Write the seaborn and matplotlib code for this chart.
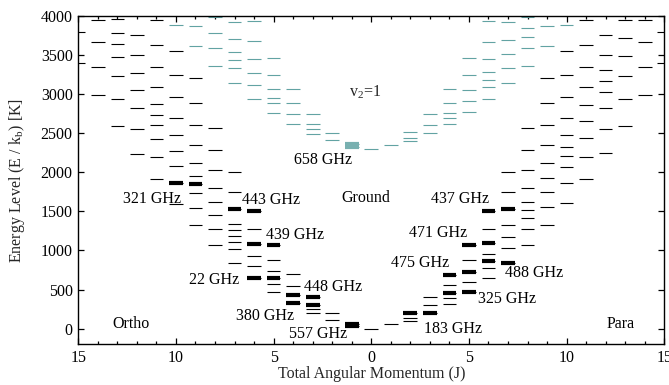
import matplotlib
matplotlib.use("Agg")
import matplotlib.pyplot as plt
from matplotlib.ticker import MultipleLocator
import pandas as pd
import seaborn as sns

# Rotational energy levels of H2O (E/k in K), keyed by total angular momentum J.
ortho_ground = {
    1: [34.2, 61.0],
    2: [114.4, 194.1],
    3: [196.8, 249.4, 305.3, 410.7],
    4: [323.5, 432.2, 550.4, 702.3],
    5: [468.1, 574.7, 642.7, 732.1, 878.1, 1067.7],
    6: [643.5, 795.5, 933.7, 1088.8, 1278.5, 1503.8],
    7: [843.5, 1013.2, 1113, 1189, 1262, 1339.9, 1524.8, 1749.9, 2005],
    8: [1070, 1279, 1450, 1620, 1803, 2033, 2285, 2570],
    9: [1322, 1547, 1731, 1845, 1953, 2123, 2345, 2605, 2890, 3206],
    10: [1595, 1861, 2081, 2276, 2473, 2694, 2959, 3244, 3555],
    11: [1910, 2192, 2430, 2609, 2733, 2877, 3087, 3343, 3628, 3944],
    12: [2238, 2550, 2822, 3052, 3270, 3496, 3756],
    13: [2596, 2937, 3231, 3474, 3641, 3781, 3960],
    14: [2985, 3350, 3670, 3951],
    15: [3400, 3790],
}
para_ground = {
    0: [0.0],
    1: [53.4],
    2: [100.8, 136.9, 195.9],
    3: [204.7, 296.8, 410.4],
    4: [319.5, 396.4, 454.3, 552.3, 688.2],
    5: [469.9, 598.8, 725.1, 877.8, 1067.7],
    6: [642.7, 781.2, 867.3, 951.8, 1090.3, 1278.7, 1503.7],
    7: [843.8, 1028, 1173, 1326, 1524.7, 1752, 2008],
    8: [1066, 1271, 1412, 1514, 1624, 1803, 2033, 2285, 2570],
    9: [1322, 1556, 1752, 1931, 2123, 2345, 2605, 2890, 3206],
    10: [1604, 1867, 2068, 2212, 2324, 2481, 2694, 2959, 3244, 3555],
    11: [1910, 2192, 2439, 2652, 2861, 3087, 3343, 3628, 3944],
    12: [2243, 2554, 2818, 3027, 3171, 3308, 3504, 3760],
    13: [2596, 2937, 3231, 3487, 3721, 3951],
    14: [2985, 3350, 3666, 3944],
    15: [3400, 3790],
}
ortho_v2 = {
    1: [2326, 2358],
    2: [2413, 2508],
    3: [2494, 2550, 2618, 2746],
    4: [2622, 2746, 2882, 3065],
    5: [2762, 2882, 2954, 3065, 3240, 3462],
    6: [2937, 3113, 3266, 3453, 3675, 3939],
    7: [3138, 3330, 3440, 3542, 3705, 3918],
    8: [3363, 3590, 3781, 3982],
    9: [3611, 3867],
    10: [3888],
}
para_v2 = {
    0: [2294],
    1: [2353],
    2: [2396, 2435, 2512],
    3: [2503, 2609, 2746],
    4: [2614, 2694, 2762, 2882, 3061],
    5: [2767, 2912, 3056, 3240, 3462],
    6: [2937, 3091, 3180, 3283, 3453, 3670, 3939],
    7: [3138, 3338, 3509, 3696, 3918],
    8: [3363, 3586, 3734, 3841, 3990],
    9: [3611, 3867],
    10: [3888],
}

# Observed lines: label, spin species, vibrational state, (J_up, E_up), (J_low, E_low)
transitions = [
    ("321 GHz", "ortho", "ground", (10, 1861), (9, 1845)),
    ("443 GHz", "ortho", "ground", (7, 1524.8), (6, 1503.8)),
    ("439 GHz", "ortho", "ground", (6, 1088.8), (5, 1067.7)),
    ("22 GHz", "ortho", "ground", (6, 643.5), (5, 642.7)),
    ("448 GHz", "ortho", "ground", (4, 432.2), (3, 410.7)),
    ("380 GHz", "ortho", "ground", (4, 323.5), (3, 305.3)),
    ("557 GHz", "ortho", "ground", (1, 61.0), (1, 34.2)),
    ("658 GHz", "ortho", "v2", (1, 2358), (1, 2326)),
    ("183 GHz", "para", "ground", (3, 204.7), (2, 195.9)),
    ("325 GHz", "para", "ground", (5, 469.9), (4, 454.3)),
    ("475 GHz", "para", "ground", (5, 725.1), (4, 688.2)),
    ("471 GHz", "para", "ground", (6, 1090.3), (5, 1067.7)),
    ("437 GHz", "para", "ground", (7, 1524.7), (6, 1503.7)),
    ("488 GHz", "para", "ground", (6, 867.3), (7, 843.8)),
]

# Where each annotation sits (signed J axis, energy in K; text baseline)
label_pos = {
    "321 GHz": (-11.2, 1611), "443 GHz": (-5.14, 1591), "439 GHz": (-3.88, 1143),
    "22 GHz": (-8.05, 572), "448 GHz": (-1.94, 482), "380 GHz": (-5.45, 111),
    "557 GHz": (-2.72, -123), "658 GHz": (-2.47, 2106), "183 GHz": (4.18, -51),
    "325 GHz": (6.97, 332), "475 GHz": (2.50, 785), "471 GHz": (3.44, 1169),
    "437 GHz": (4.57, 1604), "488 GHz": (8.36, 657),
}
region_labels = {"Ortho": (-12.3, 13), "Para": (12.76, 5), "Ground": (-0.27, 1624)}

side = {"ortho": -1, "para": 1}
rows = []
for species, state, table in [("ortho", "ground", ortho_ground), ("para", "ground", para_ground),
                              ("ortho", "v2", ortho_v2), ("para", "v2", para_v2)]:
    for J, energies in table.items():
        for E in energies:
            rows.append({"x": side[species] * J, "E": E, "state": state})
levels = pd.DataFrame(rows)

thick_rows = []
for name, species, state, up, low in transitions:
    for J, E in (up, low):
        thick_rows.append({"x": side[species] * J, "E": E, "state": state})
thick = pd.DataFrame(thick_rows)

sns.set_theme(style="ticks")
plt.rcParams["font.family"] = ["Liberation Serif", "DejaVu Serif"]
plt.rcParams["mathtext.fontset"] = "stix"
FS = 11.5

TEAL = "#62a3a3"
colors = {"ground": "black", "v2": TEAL}
half = 0.35

fig = plt.figure(figsize=(6.69, 3.85), dpi=100)
ax = fig.add_axes([0.1170, 0.1057, 0.8759, 0.8530])

for state, grp in levels.groupby("state"):
    ax.hlines(grp["E"], grp["x"] - half, grp["x"] + half, colors=colors[state], lw=0.8)
for state, grp in thick.groupby("state"):
    ax.hlines(grp["E"], grp["x"] - half, grp["x"] + half,
              colors=("black" if state == "ground" else "#78b0b0"), lw=3.0)

for name, (x, y) in label_pos.items():
    ax.text(x, y, name, ha="center", va="baseline", fontsize=FS, color="black")
for name, (x, y) in region_labels.items():
    ax.text(x, y, name, ha="center", va="baseline", fontsize=FS, color="black")
ax.text(-1.14, 2962, r"v$_\mathregular{2}$=1", ha="left", va="baseline", fontsize=FS)

ax.set_xlim(-15, 15)
ax.set_ylim(-200, 4000)
ax.set_xticks([-15, -10, -5, 0, 5, 10, 15])
ax.set_xticklabels(["15", "10", "5", "0", "5", "10", "15"])
ax.xaxis.set_minor_locator(MultipleLocator(1))
ax.set_yticks(range(0, 4001, 500))
ax.tick_params(which="both", direction="in", top=True, right=True, width=0.9,
               labelsize=FS, colors="black")
ax.tick_params(which="major", length=4.5, pad=4)
ax.tick_params(which="minor", length=2.5)
ax.tick_params(axis="y", which="minor", left=False, right=False)
for sp in ax.spines.values():
    sp.set_linewidth(1.0)
    sp.set_color("black")

ax.set_xlabel("Total Angular Momentum (J)", fontsize=FS)
ax.set_ylabel(r"Energy Level (E / k$_\mathregular{b}$) [K]", fontsize=FS)
ax.xaxis.set_label_coords(0.5, -0.066)
ax.yaxis.set_label_coords(-0.0875, 0.5)
ax.grid(False)

fig.savefig("out.png", dpi=100)
